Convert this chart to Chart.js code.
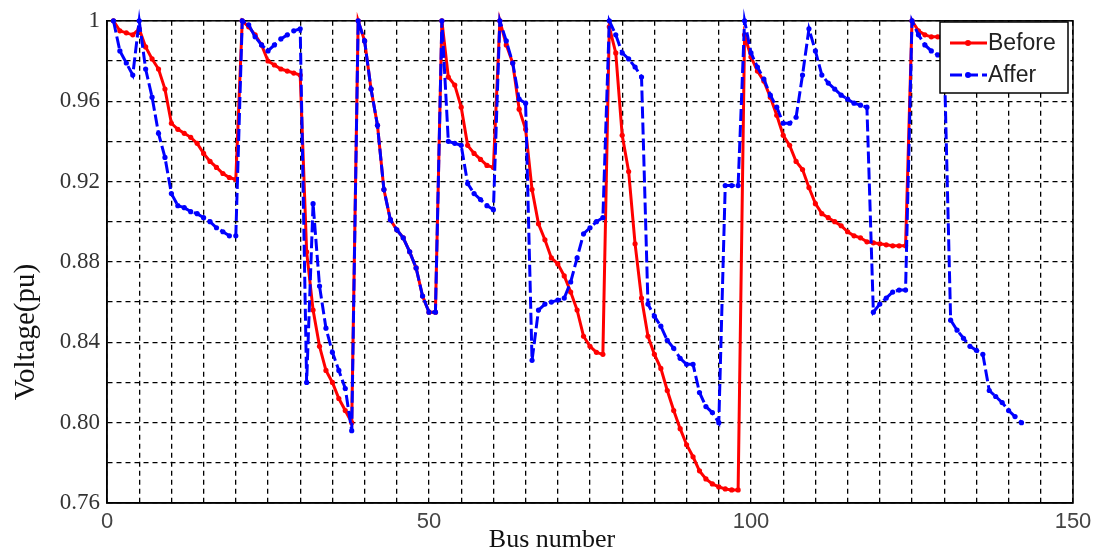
<!DOCTYPE html>
<html>
<head>
<meta charset="utf-8">
<title>Bus voltage before / after</title>
<script src="https://cdn.jsdelivr.net/npm/chart.js"></script>
<style>
  body { margin: 0; background: #fff; }
</style>
</head>
<body>
<canvas id="voltageChart" width="1103" height="553"></canvas>
<script>
const busNumbers = Array.from({ length: 142 }, (_, i) => i + 1);

const beforeVoltage = [
  1.000, 0.995, 0.994, 0.993, 0.996, 0.987, 0.981, 0.976, 0.966, 0.949,
  0.946, 0.944, 0.942, 0.939, 0.934, 0.930, 0.927, 0.924, 0.922, 0.921,
  1.000, 0.997, 0.993, 0.988, 0.980, 0.978, 0.976, 0.975, 0.974, 0.973,
  0.885, 0.856, 0.838, 0.826, 0.820, 0.812, 0.806, 0.800, 1.000, 0.990,
  0.966, 0.948, 0.916, 0.901, 0.896, 0.892, 0.885, 0.877, 0.863, 0.855,
  0.855, 1.000, 0.972, 0.968, 0.957, 0.938, 0.934, 0.931, 0.928, 0.927,
  1.000, 0.988, 0.979, 0.956, 0.946, 0.916, 0.899, 0.891, 0.882, 0.879,
  0.873, 0.865, 0.856, 0.843, 0.838, 0.835, 0.834, 0.997, 0.984, 0.943,
  0.925, 0.889, 0.862, 0.843, 0.834, 0.827, 0.816, 0.806, 0.797, 0.789,
  0.783, 0.776, 0.772, 0.7695, 0.768, 0.767, 0.7665, 0.7665, 0.993, 0.982,
  0.975, 0.970, 0.962, 0.953, 0.943, 0.938, 0.930, 0.926, 0.917, 0.909,
  0.904, 0.902, 0.900, 0.898, 0.895, 0.893, 0.892, 0.890, 0.8895, 0.889,
  0.8885, 0.888, 0.888, 0.888, 1.000, 0.995, 0.993, 0.992, 0.992, 0.991,
  0.990, 0.990, 0.989, 0.989, 0.988, 0.988, 0.987, 0.987, 0.986, 0.986,
  0.985, 0.985
];

const afterVoltage = [
  1.000, 0.985, 0.979, 0.973, 1.000, 0.976, 0.962, 0.944, 0.932, 0.914,
  0.908, 0.907, 0.905, 0.904, 0.902, 0.900, 0.897, 0.895, 0.893, 0.893,
  1.000, 0.998, 0.992, 0.988, 0.985, 0.988, 0.991, 0.993, 0.995, 0.996,
  0.820, 0.909, 0.868, 0.847, 0.835, 0.826, 0.817, 0.796, 1.000, 0.990,
  0.966, 0.948, 0.916, 0.901, 0.896, 0.892, 0.885, 0.877, 0.863, 0.855,
  0.855, 1.000, 0.940, 0.939, 0.938, 0.919, 0.914, 0.911, 0.908, 0.906,
  1.000, 0.990, 0.979, 0.961, 0.959, 0.831, 0.856, 0.859, 0.860, 0.861,
  0.862, 0.870, 0.882, 0.894, 0.897, 0.900, 0.902, 1.000, 0.993, 0.984,
  0.981, 0.977, 0.972, 0.859, 0.853, 0.848, 0.841, 0.837, 0.832, 0.829,
  0.829, 0.815, 0.808, 0.805, 0.800, 0.918, 0.918, 0.918, 1.000, 0.984,
  0.977, 0.971, 0.963, 0.957, 0.949, 0.949, 0.952, 0.973, 0.996, 0.985,
  0.973, 0.969, 0.966, 0.963, 0.961, 0.959, 0.958, 0.957, 0.855, 0.859,
  0.862, 0.865, 0.866, 0.866, 1.000, 0.993, 0.988, 0.985, 0.983, 0.982,
  0.851, 0.846, 0.842, 0.838, 0.836, 0.834, 0.816, 0.813, 0.810, 0.806,
  0.803, 0.800
];

const seriesNames = ['Before', 'Affer'];
const xTickLabels = ['0', '50', '100', '150'];
const yTickLabels = ['0.76', '0.80', '0.84', '0.88', '0.92', '0.96', '1'];

const toPoints = (values) => values.map((v, i) => ({ x: busNumbers[i], y: v }));

// frame, axis titles and the boxed legend, matlab style
const figureDecor = {
  id: 'figureDecor',
  beforeDatasetsDraw(chart) {
    const { ctx, chartArea: a } = chart;
    ctx.save();
    ctx.strokeStyle = '#000';
    ctx.lineWidth = 1.5;
    ctx.strokeRect(a.left, a.top, a.right - a.left, a.bottom - a.top);
    ctx.restore();
  },
  afterDraw(chart) {
    const ctx = chart.ctx;
    ctx.save();
    ctx.fillStyle = '#111';
    ctx.textAlign = 'center';
    ctx.textBaseline = 'middle';
    ctx.font = '26px "Liberation Serif"';
    ctx.fillText('Bus number', 552, 540);
    ctx.translate(26, 332);
    ctx.rotate(-Math.PI / 2);
    ctx.font = '29px "Liberation Serif"';
    ctx.fillText('Voltage(pu)', 0, 0);
    ctx.restore();

    ctx.save();
    ctx.fillStyle = '#fff';
    ctx.fillRect(940, 22, 128, 71);
    ctx.strokeStyle = '#000';
    ctx.lineWidth = 1.5;
    ctx.strokeRect(940, 22, 128, 71);
    ctx.font = '23px "Liberation Sans"';
    ctx.textAlign = 'left';
    ctx.textBaseline = 'middle';
    chart.data.datasets.forEach((ds, i) => {
      const y = 43 + 32 * i;
      ctx.strokeStyle = ds.borderColor;
      ctx.lineWidth = ds.borderWidth;
      ctx.setLineDash(ds.borderDash || []);
      ctx.beginPath();
      ctx.moveTo(950, y);
      ctx.lineTo(987, y);
      ctx.stroke();
      ctx.setLineDash([]);
      ctx.fillStyle = ds.borderColor;
      ctx.beginPath();
      ctx.arc(968, y, 3, 0, Math.PI * 2);
      ctx.fill();
      ctx.fillStyle = '#222';
      ctx.fillText(ds.label, 988, y + 1);
    });
    ctx.restore();
  }
};

const voltageChart = new Chart(document.getElementById('voltageChart').getContext('2d'), {
  type: 'line',
  data: {
    datasets: [
      {
        label: seriesNames[0],
        data: toPoints(beforeVoltage),
        borderColor: '#ff0000',
        backgroundColor: '#ff0000',
        borderWidth: 3,
        pointRadius: 2.6,
        pointBorderWidth: 0,
        tension: 0,
        clip: false,
        order: 1
      },
      {
        label: seriesNames[1],
        data: toPoints(afterVoltage),
        borderColor: '#0000ff',
        backgroundColor: '#0000ff',
        borderWidth: 3,
        borderDash: [12, 4],
        pointRadius: 2.6,
        pointBorderWidth: 0,
        tension: 0,
        clip: false,
        order: 0
      }
    ]
  },
  options: {
    responsive: false,
    animation: false,
    devicePixelRatio: 1,
    events: [],
    layout: { padding: { top: 19, right: 30, left: 0, bottom: 0 } },
    plugins: {
      legend: { display: false },
      tooltip: { enabled: false }
    },
    scales: {
      x: {
        type: 'linear',
        min: 0,
        max: 150,
        afterFit: (scale) => { scale.height = 50; },
        ticks: {
          stepSize: 5,
          autoSkip: false,
          maxRotation: 0,
          padding: 6,
          color: '#444',
          font: { family: 'Liberation Sans', size: 22 },
          callback: (value, index) => (index % 10 === 0 ? xTickLabels[index / 10] : '')
        },
        grid: { color: '#000', lineWidth: 1.3, drawTicks: false },
        border: { display: true, color: '#000', width: 1.5, dash: [5, 4] }
      },
      y: {
        min: 0.76,
        max: 1,
        afterFit: (scale) => { scale.width = 107; },
        ticks: {
          stepSize: 0.02,
          autoSkip: false,
          padding: 7,
          color: '#333',
          font: { family: 'Liberation Serif', size: 23 },
          callback: (value, index) => (index % 2 === 0 ? yTickLabels[index / 2] : '')
        },
        grid: { color: '#000', lineWidth: 1.3, drawTicks: false },
        border: { display: true, color: '#000', width: 1.5, dash: [5, 4] }
      }
    }
  },
  plugins: [figureDecor]
});
</script>
</body>
</html>
